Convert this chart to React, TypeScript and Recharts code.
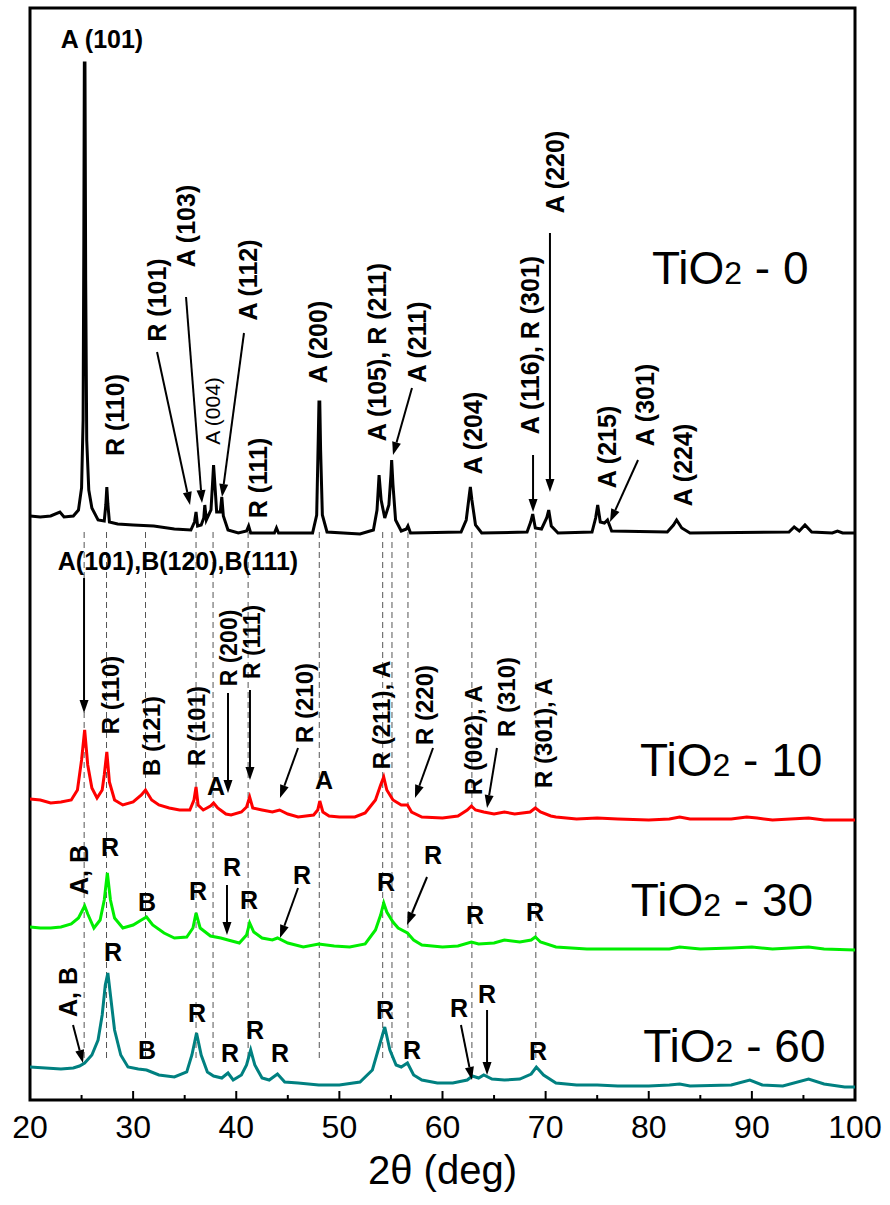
// XRD patterns of TiO2 samples, stacked traces with phase annotations
import {
  LineChart,
  Line,
  XAxis,
  YAxis,
  ReferenceLine,
  ReferenceDot,
  ReferenceArea,
} from "recharts";

const FONT = '"Liberation Sans", Arial, Helvetica, sans-serif';

type Pt = [number, number];

// 2θ (deg), intensity (a.u., traces already offset)
const tio2_0: Pt[] = [
  [20, 584], [21, 583], [22, 584], [22.9, 588], [23.3, 583], [24.2, 584], [24.7, 590],
  [25.0, 612], [25.15, 680], [25.22, 860], [25.27, 1037], [25.33, 1037], [25.4, 820],
  [25.5, 660], [25.7, 610], [26.0, 592], [26.6, 580], [27.2, 579], [27.35, 595],
  [27.45, 613], [27.55, 596], [27.7, 578], [28.5, 576], [30, 575], [32, 574], [34, 571],
  [35.6, 570], [35.95, 578], [36.1, 588], [36.25, 574], [36.6, 575], [36.85, 582],
  [36.95, 595], [37.1, 580], [37.55, 590], [37.72, 620], [37.8, 635], [37.9, 620],
  [38.1, 588], [38.45, 588], [38.6, 603], [38.75, 584], [39.2, 570], [40.2, 567],
  [41.0, 569], [41.2, 574], [41.4, 567], [43.7, 567], [43.9, 572], [44.1, 567],
  [47.4, 567], [47.8, 585], [47.95, 660], [48.02, 698], [48.1, 698], [48.18, 650],
  [48.35, 585], [48.8, 568], [52, 566], [53.3, 570], [53.65, 590], [53.85, 625],
  [54.05, 600], [54.4, 582], [54.8, 595], [55.0, 625], [55.07, 640], [55.2, 615],
  [55.45, 580], [56.0, 569], [56.5, 571], [56.65, 574], [56.9, 567], [61.8, 568],
  [62.3, 580], [62.6, 605], [62.7, 613], [62.85, 600], [63.2, 575], [63.8, 567],
  [68.2, 568], [68.55, 578], [68.75, 586], [69.0, 572], [69.6, 571], [70.1, 582],
  [70.3, 590], [70.55, 574], [71.2, 567], [74.5, 568], [74.85, 582], [75.05, 595],
  [75.3, 578], [75.7, 577], [76.0, 580], [76.4, 569], [81.8, 568], [82.4, 575],
  [82.7, 580], [83.2, 572], [84, 567], [93.6, 568], [94.1, 573], [94.6, 569],
  [95.15, 575], [95.8, 568], [97.8, 567], [98.3, 569], [98.8, 567], [100, 567],
];

const tio2_10: Pt[] = [
  [20, 301], [21, 300], [22, 297], [23, 298], [24, 300], [24.6, 310], [25.0, 340],
  [25.3, 370], [25.6, 335], [26.0, 312], [26.5, 302], [27.0, 310], [27.2, 325],
  [27.45, 348], [27.7, 318], [28.2, 300], [29, 295], [30, 298], [30.8, 305], [31.2, 310],
  [31.8, 300], [32.5, 295], [33.5, 292], [34.5, 290], [35.5, 290], [35.9, 300],
  [36.1, 313], [36.3, 295], [36.8, 290], [37.5, 294], [37.8, 297], [38.2, 292],
  [39.0, 286], [39.5, 285], [40.5, 288], [41.0, 293], [41.3, 303], [41.6, 292],
  [42.5, 290], [43.5, 288], [44.2, 290], [45, 286], [46, 283], [47.5, 285], [47.9, 290],
  [48.1, 299], [48.4, 288], [49, 284], [50, 283], [51.5, 283], [52.5, 287], [53.5, 300],
  [54.0, 315], [54.3, 323], [54.6, 310], [55.2, 300], [56.0, 295], [56.6, 295],
  [57.0, 288], [58, 283], [60, 282], [61.5, 284], [62.4, 290], [62.8, 294], [63.2, 290],
  [64.0, 288], [65, 286], [66, 288], [67, 286], [68.5, 288], [69.0, 292], [69.5, 288],
  [70.5, 284], [71, 283], [73, 281], [75, 282], [77, 281], [80, 280], [82, 281],
  [83, 283], [84, 281], [88, 281], [89.5, 283], [90.5, 282], [92, 280], [95.5, 282],
  [97, 280], [100, 280],
];

const tio2_30: Pt[] = [
  [20, 173], [21, 172], [22, 172], [23, 173], [24, 176], [24.7, 182], [25.0, 188],
  [25.3, 194], [25.6, 186], [26.2, 172], [26.8, 180], [27.2, 200], [27.5, 227],
  [27.8, 200], [28.2, 182], [29.0, 172], [30.0, 175], [30.8, 180], [31.3, 183],
  [31.9, 175], [33.0, 167], [34.0, 162], [35.2, 163], [35.8, 172], [36.1, 187],
  [36.5, 172], [37.5, 164], [38.5, 162], [39.2, 160], [40.3, 157], [41.0, 165],
  [41.3, 177], [41.7, 168], [42.5, 162], [43.5, 160], [44.0, 162], [45.0, 157],
  [46.5, 153], [48, 156], [49.5, 154], [51, 153], [52.5, 156], [53.5, 170], [54.0, 185],
  [54.3, 197], [54.6, 188], [55.2, 178], [55.7, 172], [56.6, 167], [57.2, 160],
  [58.0, 155], [60, 153], [61.5, 154], [62.8, 158], [63.5, 156], [65, 157], [66, 160],
  [67.5, 158], [68.6, 160], [69.0, 163], [69.5, 158], [71, 153], [74, 151], [78, 151],
  [82, 151], [83, 153], [85, 151], [88, 152], [90, 153], [92, 151], [95.5, 153],
  [97, 151], [100, 150],
];

const tio2_60: Pt[] = [
  [20, 33], [21.5, 32], [23, 31], [24.2, 32], [24.8, 34], [25.3, 37], [26.0, 45],
  [26.6, 60], [27.0, 85], [27.3, 115], [27.55, 127], [27.8, 105], [28.2, 70], [28.8, 45],
  [29.5, 33], [30.5, 31], [31.3, 30], [32.5, 25], [34, 23], [35.2, 28], [35.7, 45],
  [36.15, 67], [36.6, 45], [37.2, 28], [37.8, 24], [38.6, 22], [39.2, 27], [39.7, 20],
  [40.5, 25], [41.0, 35], [41.4, 50], [41.8, 35], [42.5, 22], [43.2, 20], [44.0, 26],
  [44.7, 18], [46, 17], [48, 15], [50, 15], [52, 18], [53.2, 30], [53.9, 55], [54.4, 73],
  [54.9, 50], [55.5, 35], [56.0, 33], [56.6, 37], [57.2, 25], [58, 20], [59.5, 17],
  [61, 17], [62.4, 20], [62.9, 24], [63.5, 22], [64.0, 25], [64.8, 21], [66, 20],
  [67.5, 21], [68.6, 26], [69.1, 33], [69.8, 25], [71, 17], [73, 15], [75, 15], [77, 14],
  [80, 14], [82, 15], [83, 16], [84, 14], [88, 15], [89.8, 20], [91, 15], [93, 14],
  [95.5, 21], [97, 16], [99, 13], [100, 13],
];

const series = [
  { key: "s0", data: tio2_0, color: "#000000" },
  { key: "s10", data: tio2_10, color: "#ff0000" },
  { key: "s30", data: tio2_30, color: "#00ee00" },
  { key: "s60", data: tio2_60, color: "#008080" },
];

const xTicks = [20, 25, 30, 35, 40, 45, 50, 55, 60, 65, 70, 75, 80, 85, 90, 95, 100];

// dashed guides through the reflections
const guides = [25.25, 27.42, 31.2, 36.1, 37.75, 41.15, 48.05, 54.2, 55.1, 56.65, 62.85, 69.05];

// sample names: number, 2θ, intensity
const samples: [string, number, number][] = [
  ["0", 87.9, 832],
  ["10", 88.0, 340],
  ["30", 87.1, 200],
  ["60", 88.3, 54],
];

type Note = { t: string; x: number; y: number; rot?: boolean; size?: number; thin?: boolean };

const notes: Note[] = [
  // TiO2 - 0
  { t: "A (101)", x: 26.98, y: 1061 },
  { t: "R (110)", x: 28.24, y: 685, rot: true },
  { t: "R (101)", x: 32.32, y: 800, rot: true },
  { t: "A (103)", x: 35.13, y: 874, rot: true },
  { t: "A (004)", x: 37.65, y: 689, rot: true, size: 21, thin: true },
  { t: "A (112)", x: 41.14, y: 820, rot: true },
  { t: "R (111)", x: 42.11, y: 622, rot: true },
  { t: "A (200)", x: 47.93, y: 758, rot: true },
  { t: "A (105), R (211)", x: 53.65, y: 748, rot: true },
  { t: "A (211)", x: 57.53, y: 758, rot: true },
  { t: "A (204)", x: 62.96, y: 667, rot: true },
  { t: "A (116), R (301)", x: 68.48, y: 755, rot: true },
  { t: "A (220)", x: 70.91, y: 928, rot: true },
  { t: "A (215)", x: 75.95, y: 653, rot: true },
  { t: "A (301)", x: 79.64, y: 695, rot: true },
  { t: "A (224)", x: 83.32, y: 635, rot: true },
  // TiO2 - 10
  { t: "A(101),B(120),B(111)", x: 34.35, y: 539 },
  { t: "R (110)", x: 27.85, y: 405, rot: true, size: 24 },
  { t: "B (121)", x: 31.83, y: 364, rot: true, size: 24 },
  { t: "R (101)", x: 36.19, y: 374, rot: true, size: 24 },
  { t: "A", x: 38.04, y: 314 },
  { t: "R (200)", x: 39.3, y: 452, rot: true, size: 23 },
  { t: "R (111)", x: 41.5, y: 458, rot: true, size: 23 },
  { t: "R (210)", x: 46.57, y: 397, rot: true, size: 24 },
  { t: "A", x: 48.51, y: 320 },
  { t: "R (211), A", x: 54.13, y: 385, rot: true, size: 24 },
  { t: "R (220)", x: 58.3, y: 395, rot: true, size: 24 },
  { t: "R (002), A", x: 63.05, y: 360, rot: true, size: 24 },
  { t: "R (310)", x: 66.25, y: 403, rot: true, size: 24 },
  { t: "R (301), A", x: 69.75, y: 367, rot: true, size: 24 },
  // TiO2 - 30
  { t: "A, B", x: 24.75, y: 230, rot: true },
  { t: "R", x: 27.76, y: 253 },
  { t: "B", x: 31.35, y: 198 },
  { t: "R", x: 36.29, y: 209 },
  { t: "R", x: 39.59, y: 233 },
  { t: "R", x: 41.24, y: 200 },
  { t: "R", x: 46.38, y: 225 },
  { t: "R", x: 54.52, y: 218 },
  { t: "R", x: 59.08, y: 245 },
  { t: "R", x: 63.15, y: 185 },
  { t: "R", x: 68.97, y: 188 },
  // TiO2 - 60
  { t: "A, B", x: 23.68, y: 108, rot: true },
  { t: "R", x: 28.05, y: 148 },
  { t: "B", x: 31.35, y: 50 },
  { t: "R", x: 36.19, y: 87 },
  { t: "R", x: 39.39, y: 47 },
  { t: "R", x: 41.82, y: 70 },
  { t: "R", x: 44.24, y: 47 },
  { t: "R", x: 54.42, y: 90 },
  { t: "R", x: 57.04, y: 50 },
  { t: "R", x: 61.6, y: 92 },
  { t: "R", x: 64.32, y: 106 },
  { t: "R", x: 69.26, y: 49 },
];

// arrows: from (2θ, I) to (2θ, I)
const arrows: [number, number, number, number][] = [
  [32.32, 748, 35.52, 595],
  [35.13, 803, 36.68, 597],
  [40.75, 767, 38.62, 603],
  [57.04, 712, 55.2, 645],
  [68.78, 645, 68.78, 588],
  [70.42, 867, 70.42, 608],
  [78.96, 640, 76.24, 578],
  [25.24, 522, 25.24, 387],
  [39.2, 407, 39.2, 307],
  [41.33, 410, 41.33, 320],
  [45.99, 352, 44.24, 302],
  [59.08, 352, 57.33, 302],
  [65.28, 352, 64.32, 292],
  [39.1, 215, 39.1, 165],
  [45.99, 212, 44.24, 162],
  [58.5, 223, 56.56, 175],
  [24.17, 75, 25.14, 37],
  [61.79, 75, 62.86, 20],
  [64.32, 90, 64.32, 25],
];

const noteShape = (n: Note) => (p: any) => (
  <text
    x={p.cx}
    y={p.cy}
    transform={n.rot ? `rotate(-90 ${p.cx} ${p.cy})` : undefined}
    textAnchor="middle"
    dominantBaseline="central"
    fontFamily={FONT}
    fontSize={n.size ?? 25}
    fontWeight={n.thin ? 400 : 700}
    fill="#000"
  >
    {n.t}
  </text>
);

// "2" is smaller but sits on the same baseline
const sampleShape = (num: string) => (p: any) => (
  <text x={p.cx} y={p.cy + 16} textAnchor="middle" fontFamily={FONT} fontSize={46} fill="#000">
    TiO<tspan fontSize={32}>2</tspan> - {num}
  </text>
);

const arrowShape = (p: any) => {
  const { x1, y1, x2, y2 } = p;
  const len = Math.hypot(x2 - x1, y2 - y1) || 1;
  const ux = (x2 - x1) / len;
  const uy = (y2 - y1) / len;
  const bx = x2 - ux * 13;
  const by = y2 - uy * 13;
  return (
    <g>
      <line x1={x1} y1={y1} x2={bx} y2={by} stroke="#000" strokeWidth={2} />
      <polygon
        points={`${x2},${y2} ${bx - uy * 4.5},${by + ux * 4.5} ${bx + uy * 4.5},${by - ux * 4.5}`}
        fill="#000"
      />
    </g>
  );
};

const XTick = (p: any) => {
  const v = p.payload.value;
  const major = v % 10 === 0;
  return (
    <g>
      <line x1={p.x} x2={p.x} y1={p.y} y2={p.y - (major ? 9 : 5)} stroke="#000" strokeWidth={2} />
      {major && (
        <text x={p.x} y={p.y + 38} textAnchor="middle" fontFamily={FONT} fontSize={32} fill="#000">
          {v}
        </text>
      )}
    </g>
  );
};

export default function App() {
  return (
    <div style={{ position: "absolute", left: 0, top: 0, width: 890, height: 1205, background: "#fff" }}>
      <LineChart width={890} height={1205} margin={{ top: 8, right: 35, bottom: 45, left: 30 }}>
        <XAxis
          type="number"
          dataKey="x"
          domain={[20, 100]}
          ticks={xTicks}
          allowDataOverflow
          height={60}
          tickSize={0}
          tickMargin={0}
          axisLine={false}
          tickLine={false}
          tick={<XTick />}
          label={{ value: "2θ (deg)", position: "bottom", offset: -4, fill: "#000", fontSize: 40, fontFamily: FONT }}
        />
        <YAxis type="number" dataKey="y" domain={[0, 1092]} allowDataOverflow hide />
        {guides.map((g) => (
          <ReferenceLine
            key={"g" + g}
            segment={[{ x: g, y: 568 }, { x: g, y: 38 }]}
            stroke="#555"
            strokeWidth={1}
            strokeDasharray="6 4"
          />
        ))}
        {series.map((s) => (
          <Line
            key={s.key}
            data={s.data.map(([x, y]) => ({ x, y }))}
            dataKey="y"
            type="linear"
            stroke={s.color}
            strokeWidth={3}
            dot={false}
            isAnimationActive={false}
          />
        ))}
        {arrows.map(([a, b, c, d], i) => (
          <ReferenceLine key={"a" + i} segment={[{ x: a, y: b }, { x: c, y: d }]} shape={arrowShape} />
        ))}
        {notes.map((n, i) => (
          <ReferenceDot key={"n" + i} x={n.x} y={n.y} r={1} shape={noteShape(n)} />
        ))}
        {samples.map(([num, x, y]) => (
          <ReferenceDot key={"s" + num} x={x} y={y} r={1} shape={sampleShape(num)} />
        ))}
        <ReferenceArea x1={20} x2={100} y1={0} y2={1092} fill="none" stroke="#000" strokeWidth={3} />
      </LineChart>
    </div>
  );
}
